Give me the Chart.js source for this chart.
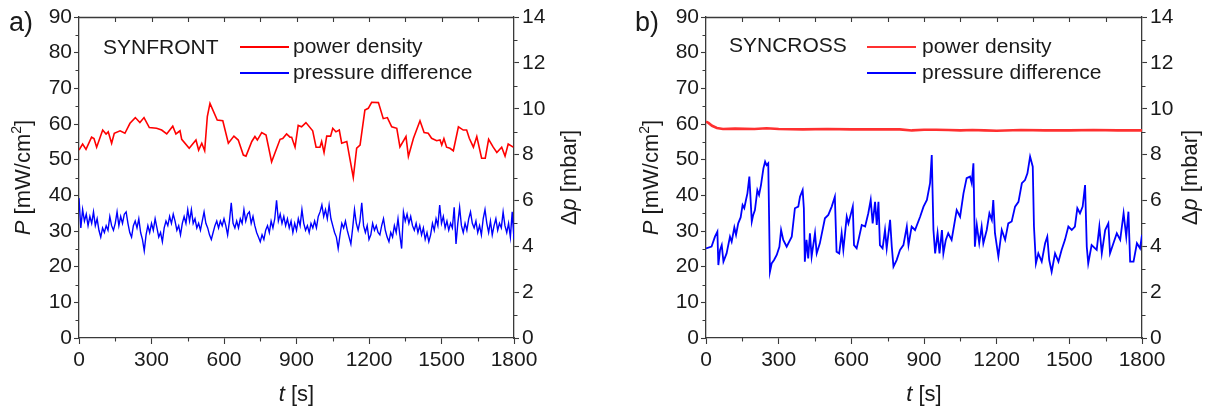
<!DOCTYPE html>
<html>
<head>
<meta charset="utf-8">
<script src="https://cdn.jsdelivr.net/npm/chart.js@4.4.0/dist/chart.umd.min.js"></script>
<style>
  html, body { margin: 0; padding: 0; background: #fff; }
  #wrap { position: relative; width: 1218px; height: 412px; overflow: hidden; }
  .panel { position: absolute; top: 0; width: 609px; height: 412px; }
</style>
</head>
<body>
<div id="wrap">
  <div class="panel" style="left:0"><canvas id="chartA" width="609" height="412"></canvas></div>
  <div class="panel" style="left:609px"><canvas id="chartB" width="609" height="412"></canvas></div>
</div>
<script>
// axis ticks
const timeTicks = [0, 300, 600, 900, 1200, 1500, 1800];
const powerTicks = [0, 10, 20, 30, 40, 50, 60, 70, 80, 90];
const pressureTicks = [0, 2, 4, 6, 8, 10, 12, 14];

// a) SYNFRONT - power density [mW/cm2]
const redATime = [0, 15, 29, 52, 62, 73, 98, 112, 121, 135, 146, 170, 190, 211, 233, 252, 269, 291, 321, 342, 363, 388, 401, 418, 425, 456, 484, 495, 508, 520, 531, 542, 572, 595, 618, 641, 659, 680, 691, 715, 728, 738, 756, 774, 797, 832, 843, 859, 873, 880, 894, 907, 921, 939, 967, 981, 997, 1004, 1014, 1025, 1041, 1050, 1063, 1077, 1087, 1108, 1135, 1149, 1163, 1183, 1197, 1211, 1239, 1259, 1276, 1294, 1315, 1328, 1353, 1363, 1384, 1411, 1428, 1445, 1459, 1480, 1494, 1501, 1510, 1521, 1535, 1549, 1570, 1590, 1604, 1615, 1632, 1646, 1666, 1681, 1695, 1714, 1729, 1749, 1763, 1776, 1797];
const redAPower = [52.7, 54.4, 52.9, 56.3, 55.9, 53.5, 58.3, 57.2, 57.8, 54.6, 57.4, 58.1, 57.4, 60.2, 61.8, 60.4, 61.8, 59.0, 58.8, 58.3, 57.2, 59.4, 57.2, 58.1, 55.7, 53.2, 55.5, 52.7, 54.6, 52.5, 62.1, 65.8, 61.1, 60.9, 54.6, 56.6, 55.5, 51.3, 51.0, 55.1, 56.5, 55.5, 57.6, 56.9, 49.4, 55.7, 55.9, 57.2, 56.3, 56.3, 53.5, 59.6, 59.2, 60.4, 58.1, 53.5, 53.5, 55.1, 52.0, 56.6, 56.6, 58.8, 57.8, 58.3, 54.6, 55.1, 45.0, 53.2, 54.1, 63.9, 64.4, 66.1, 66.0, 61.5, 61.8, 59.2, 58.8, 53.6, 56.5, 50.9, 56.0, 60.9, 57.6, 57.4, 56.0, 55.3, 55.5, 54.1, 55.9, 53.5, 53.2, 52.5, 59.2, 58.3, 58.3, 56.0, 53.5, 56.5, 50.4, 50.4, 55.7, 53.5, 52.0, 53.5, 51.0, 54.4, 53.5];

// a) SYNFRONT - pressure difference [mbar], one reading every 7.5 s
const blueAStep = 7.5;
const blueAPressure = [
  6.1, 4.8, 5.6, 5.1, 5.4, 4.9, 5.3, 5.0, 5.5, 4.9, 5.2, 4.7, 4.4, 4.8, 4.6, 4.9, 4.7, 5.3, 4.9, 4.7,
  5.0, 5.5, 4.9, 5.3, 5.0, 5.4, 5.5, 5.0, 4.6, 4.4, 4.9, 5.1, 4.8, 5.2, 4.6, 4.3, 3.8, 4.5, 4.9, 4.6,
  5.0, 4.7, 5.2, 4.8, 4.4, 4.6, 4.2, 4.8, 5.1, 4.9, 5.3, 5.0, 5.4, 5.1, 4.7, 4.9, 4.5, 5.0, 5.3, 5.0,
  5.6, 5.1, 5.6, 5.0, 5.2, 4.8, 5.0, 4.7, 5.1, 5.5, 5.0, 4.8, 4.5, 4.3, 4.6, 4.9, 5.1, 4.8, 5.1, 4.9,
  5.2, 4.9, 4.5, 5.1, 5.9, 5.0, 4.8, 5.1, 4.8, 5.2, 5.0, 5.6, 5.1, 5.4, 5.5, 5.0, 5.3, 4.9, 4.6, 4.4,
  4.2, 4.5, 4.3, 4.7, 4.9, 4.6, 5.1, 4.8, 5.2, 6.0, 5.1, 5.4, 5.0, 5.3, 4.9, 5.2, 4.8, 5.1, 4.6, 5.0,
  4.7, 5.2, 4.9, 5.6, 5.0, 4.7, 4.9, 4.6, 5.0, 4.8, 5.1, 4.8, 5.3, 5.5, 5.8, 5.3, 5.6, 5.2, 5.8, 5.2,
  4.9, 4.6, 4.4, 3.9, 4.5, 5.0, 4.8, 5.1, 4.7, 4.4, 4.1, 4.8, 5.6, 5.0, 4.7, 5.1, 5.9, 4.9, 4.6, 4.9,
  4.3, 4.5, 5.0, 4.7, 4.9, 4.6, 4.5, 4.9, 5.2, 4.7, 4.4, 4.2, 4.6, 4.4, 4.9, 4.6, 5.2, 4.5, 3.9, 5.5,
  5.1, 5.4, 5.0, 5.3, 4.9, 4.7, 5.0, 4.6, 4.9, 4.5, 4.8, 4.3, 4.6, 4.2, 4.5, 5.0, 4.7, 5.2, 4.9, 5.8,
  5.0, 5.3, 4.8, 5.1, 4.7, 5.0, 4.8, 5.7, 4.1, 5.0, 5.7, 4.9, 4.6, 5.0, 4.7, 5.2, 5.5, 5.0, 4.8, 5.1,
  4.6, 4.9, 4.5, 5.2, 5.6, 5.0, 4.6, 5.1, 4.5, 4.9, 5.2, 4.7, 5.0, 4.8, 5.5, 4.9, 4.6, 5.0, 4.4, 5.5,
  4.3
];

// b) SYNCROSS - power density [mW/cm2]
const redBTime = [0, 10, 25, 45, 70, 120, 200, 250, 300, 400, 500, 600, 700, 800, 850, 900, 950, 1000, 1050, 1100, 1150, 1200, 1300, 1400, 1500, 1600, 1700, 1800];
const redBPower = [60.7, 60.3, 59.5, 58.9, 58.6, 58.7, 58.6, 58.8, 58.6, 58.5, 58.6, 58.5, 58.5, 58.5, 58.2, 58.4, 58.4, 58.3, 58.2, 58.3, 58.2, 58.1, 58.3, 58.2, 58.2, 58.3, 58.2, 58.2];

// b) SYNCROSS - pressure difference [mbar]
const blueBTime = [0, 23, 37, 47, 51, 58, 65, 72, 85, 99, 106, 117, 124, 133, 143, 151, 158, 165, 171, 179, 189, 195, 202, 212, 219, 227, 237, 244, 250, 257, 264, 271, 281, 292, 303, 310, 319, 333, 354, 367, 381, 388, 399, 404, 408, 415, 422, 429, 436, 450, 457, 470, 491, 505, 519, 532, 539, 550, 560, 567, 581, 588, 606, 611, 622, 643, 657, 670, 680, 688, 698, 705, 712, 718, 729, 739, 746, 760, 767, 774, 787, 801, 815, 829, 836, 849, 863, 884, 898, 912, 925, 932, 939, 946, 956, 964, 974, 980, 990, 1000, 1014, 1035, 1049, 1063, 1076, 1090, 1097, 1104, 1110, 1118, 1128, 1138, 1145, 1159, 1170, 1180, 1186, 1193, 1207, 1221, 1235, 1248, 1262, 1276, 1290, 1304, 1317, 1327, 1338, 1349, 1354, 1362, 1372, 1386, 1400, 1409, 1417, 1427, 1441, 1455, 1468, 1482, 1496, 1510, 1523, 1533, 1544, 1555, 1565, 1572, 1578, 1592, 1613, 1624, 1634, 1648, 1661, 1668, 1682, 1696, 1710, 1724, 1735, 1744, 1751, 1765, 1779, 1792, 1800];
const blueBPressure = [3.91, 3.99, 4.42, 4.64, 3.18, 3.84, 4.05, 3.33, 3.69, 4.42, 4.2, 4.82, 4.5, 5.0, 5.26, 5.8, 5.66, 6.02, 6.31, 7.04, 5.08, 5.37, 5.58, 6.45, 6.24, 6.67, 7.4, 7.69, 7.54, 7.62, 2.89, 3.25, 3.4, 3.62, 3.98, 4.71, 4.28, 3.98, 4.42, 5.66, 5.73, 6.16, 6.45, 5.66, 3.33, 4.28, 3.47, 4.57, 3.55, 4.57, 3.69, 4.13, 5.22, 5.37, 5.73, 6.16, 3.76, 3.69, 4.57, 3.84, 5.29, 5.0, 5.73, 4.05, 3.91, 4.93, 4.86, 5.44, 6.02, 5.0, 5.94, 4.93, 5.94, 4.05, 3.91, 4.71, 3.91, 5.15, 3.98, 3.11, 3.4, 3.84, 4.05, 4.86, 4.05, 4.86, 4.71, 5.29, 5.73, 6.02, 6.75, 7.98, 4.71, 3.69, 4.57, 3.69, 4.71, 3.69, 4.28, 4.57, 4.28, 5.58, 5.29, 6.31, 6.97, 7.04, 6.75, 7.62, 3.98, 4.93, 4.13, 4.86, 4.13, 4.71, 5.44, 5.15, 6.02, 4.57, 3.55, 4.71, 4.28, 5.0, 5.08, 5.73, 5.94, 6.75, 6.89, 7.18, 7.91, 7.47, 4.86, 3.25, 3.69, 3.33, 4.13, 4.42, 3.4, 2.89, 3.69, 3.33, 3.84, 4.28, 4.86, 4.71, 4.86, 5.66, 5.44, 5.73, 6.67, 3.98, 3.25, 4.05, 3.84, 4.86, 3.69, 4.71, 5.0, 3.69, 4.13, 4.57, 4.28, 5.44, 4.42, 5.51, 3.33, 3.33, 4.13, 3.91, 4.5];

const FONT = "Arial, 'Liberation Sans', Helvetica, sans-serif";
const AXIS = "#3a3a3a";
const TEXT = "#1a1a1a";

function pairs(xs, ys) {
  return ys.map((v, i) => ({ x: xs[i], y: v }));
}

function drawRuns(ctx, runs, x, y, angle) {
  ctx.save();
  ctx.translate(x, y);
  ctx.rotate(angle);
  ctx.textBaseline = "alphabetic";
  ctx.textAlign = "left";
  ctx.fillStyle = TEXT;
  let total = 0;
  runs.forEach(r => { ctx.font = r.font; r.w = ctx.measureText(r.text).width; total += r.w; });
  let cx = -total / 2;
  runs.forEach(r => { ctx.font = r.font; ctx.fillText(r.text, cx, r.dy || 0); cx += r.w; });
  ctx.restore();
}

const decoPlugin = {
  id: "deco",
  afterDraw(chart, args, o) {
    const { ctx, chartArea: a, scales } = chart;
    const sx = scales.x, sy = scales.y, sy2 = scales.y2;
    ctx.save();
    ctx.strokeStyle = AXIS;
    ctx.lineWidth = 1.3;
    ctx.beginPath();
    ctx.moveTo(a.left, a.top + 0.5);
    ctx.lineTo(a.right, a.top + 0.5);
    ctx.stroke();
    ctx.lineWidth = 1.1;
    ctx.beginPath();
    for (let t = 150; t < 1800; t += 150) {
      const px = Math.round(sx.getPixelForValue(t)) + 0.5;
      ctx.moveTo(px, a.top);
      ctx.lineTo(px, a.top + 5);
      if (t % 300 !== 0) {
        ctx.moveTo(px, a.bottom);
        ctx.lineTo(px, a.bottom + 3.5);
      }
    }
    for (let p = 5; p < 90; p += 10) {
      const py = Math.round(sy.getPixelForValue(p)) + 0.5;
      ctx.moveTo(a.left, py);
      ctx.lineTo(a.left - 3.5, py);
    }
    for (let d = 1; d < 14; d += 2) {
      const py = Math.round(sy2.getPixelForValue(d)) + 0.5;
      ctx.moveTo(a.right, py);
      ctx.lineTo(a.right + 3.5, py);
    }
    ctx.stroke();

    // panel tag
    ctx.fillStyle = TEXT;
    ctx.font = "27px " + FONT;
    ctx.textBaseline = "middle";
    ctx.textAlign = "left";
    ctx.fillText(o.tag, o.tagX, 24);

    // legend
    ctx.font = "21px " + FONT;
    ctx.fillText(o.name, o.nameX, o.nameY);
    const ds = chart.data.datasets;
    [o.leg1Y, o.leg2Y].forEach((ly, i) => {
      ctx.strokeStyle = ds[i].borderColor;
      ctx.lineWidth = 1.8;
      ctx.beginPath();
      ctx.moveTo(o.legX1, ly);
      ctx.lineTo(o.legX2, ly);
      ctx.stroke();
      ctx.fillText(ds[i].label, o.legTX, ly);
    });
    ctx.restore();

    // axis titles
    const cy = (a.top + a.bottom) / 2;
    const f = "22px " + FONT, fi = "italic 22px " + FONT, fs = "14px " + FONT;
    drawRuns(ctx, [{ text: "P", font: fi }, { text: " [mW/cm", font: f }, { text: "2", font: fs, dy: -9 }, { text: "]", font: f }], o.pTitleX, cy, -Math.PI / 2);
    drawRuns(ctx, [{ text: "\u0394", font: f }, { text: "p", font: fi }, { text: " [mbar]", font: f }], o.dTitleX, cy, -Math.PI / 2);
    drawRuns(ctx, [{ text: "t", font: fi }, { text: " [s]", font: f }], (a.left + a.right) / 2, 401, 0);
  }
};

function axisStyle(tickLen) {
  return {
    grid: { drawOnChartArea: false, drawTicks: true, tickLength: tickLen, tickWidth: 1.1, tickColor: AXIS },
    border: { display: true, color: AXIS, width: 1.3 }
  };
}

const tickFont = { family: FONT, size: 21 };

function makeChart(id, cfg) {
  new Chart(document.getElementById(id), {
    type: "line",
    data: {
      datasets: [
        { label: "power density", data: cfg.red, yAxisID: "y", borderColor: cfg.redColor, borderWidth: cfg.redWidth, pointRadius: 0, tension: 0 },
        { label: "pressure difference", data: cfg.blue, yAxisID: "y2", borderColor: "#0000ff", borderWidth: cfg.blueWidth, pointRadius: 0, tension: 0 }
      ]
    },
    options: {
      responsive: false,
      animation: false,
      events: [],
      layout: { padding: { top: 17, left: 0, right: 0, bottom: 0 } },
      plugins: { legend: { display: false }, tooltip: { enabled: false }, deco: cfg.deco },
      scales: {
        x: {
          type: "linear", min: 0, max: 1800,
          afterBuildTicks: s => { s.ticks = timeTicks.map(v => ({ value: v })); },
          afterFit: s => { s.height = 74; },
          ticks: { font: tickFont, color: TEXT, padding: 4, maxRotation: 0, autoSkip: false, callback: v => String(v) },
          ...axisStyle(6)
        },
        y: {
          position: "left", min: 0, max: 90,
          afterBuildTicks: s => { s.ticks = powerTicks.map(v => ({ value: v })); },
          afterFit: s => { s.width = cfg.leftW; },
          ticks: { font: tickFont, color: TEXT, padding: 2, autoSkip: false, callback: v => String(v) },
          ...axisStyle(5)
        },
        y2: {
          position: "right", min: 0, max: 14,
          afterBuildTicks: s => { s.ticks = pressureTicks.map(v => ({ value: v })); },
          afterFit: s => { s.width = cfg.rightW; },
          ticks: { font: tickFont, color: TEXT, padding: 3, autoSkip: false, callback: v => String(v) },
          ...axisStyle(5)
        }
      }
    },
    plugins: [decoPlugin]
  });
}

makeChart("chartA", {
  red: pairs(redATime, redAPower),
  blue: blueAPressure.map((v, i) => ({ x: i * blueAStep, y: v })),
  redColor: "#ff0000", redWidth: 1.6, blueWidth: 1.4,
  leftW: 79, rightW: 95,
  deco: { tag: "a)", tagX: 9, name: "SYNFRONT", nameX: 103, nameY: 48, legX1: 240, legX2: 289, legTX: 293, leg1Y: 47, leg2Y: 73, pTitleX: 30, dTitleX: 576 }
});

makeChart("chartB", {
  red: pairs(redBTime, redBPower),
  blue: pairs(blueBTime, blueBPressure),
  redColor: "#ff3030", redWidth: 2.6, blueWidth: 1.8,
  leftW: 97, rightW: 76,
  deco: { tag: "b)", tagX: 26, name: "SYNCROSS", nameX: 120, nameY: 46, legX1: 258, legX2: 307, legTX: 313, leg1Y: 47, leg2Y: 73, pTitleX: 49, dTitleX: 588 }
});
</script>
</body>
</html>
